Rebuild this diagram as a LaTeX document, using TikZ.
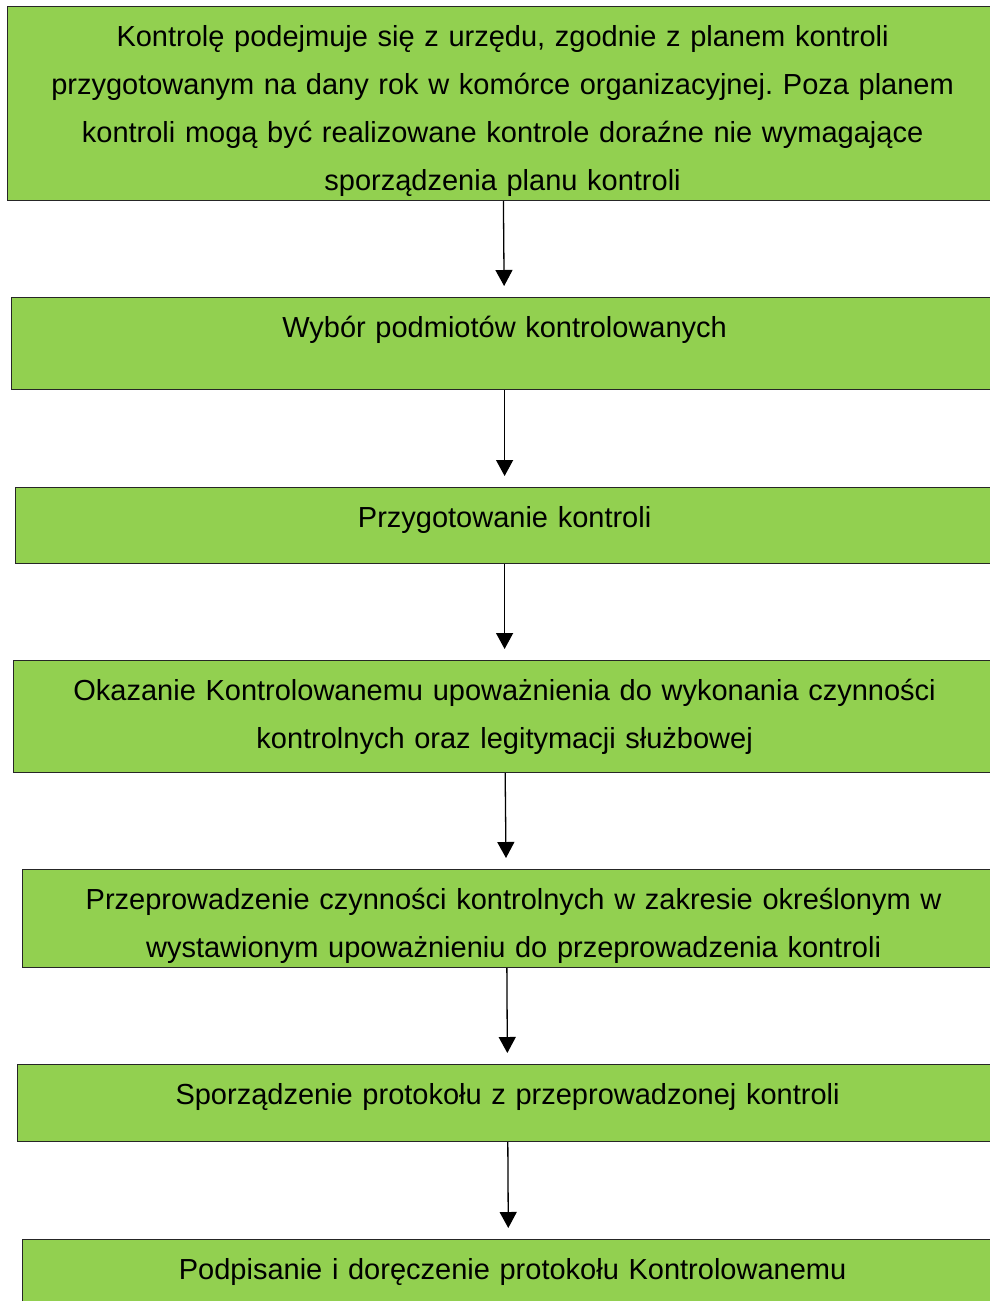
\documentclass[tikz,border=0pt]{standalone}
\usepackage{fontspec}
\setmainfont{Liberation Sans}
\usetikzlibrary{positioning}
\usetikzlibrary{arrows.meta}
\definecolor{boxgreen}{RGB}{146,208,80}
\tikzstyle{stepbox}=[rectangle,draw=black!85,fill=boxgreen,line width=1.2pt,anchor=north west,inner sep=0pt]
\tikzstyle{steptext}=[anchor=base,text width=960pt,align=center,inner sep=0pt,font=\fontsize{29}{48}\selectfont\frenchspacing]
\tikzstyle{flow}=[-{Triangle[width=17pt,length=16pt]},line width=1.3pt,shorten >=11pt]

\begin{document}
\begin{tikzpicture}[x=1pt,y=-1pt]

  \useasboundingbox (0,0) rectangle (990,1301);
  \clip (0,0) rectangle (990,1301);
  \fill[white] (0,0) rectangle (990,1301);

  % boxes, right edge runs off the page
    \foreach \pos/\w/\h/\name in {{(7,6)/990/194/plan}, {(11,297)/986/92/wybor}, {(15,487)/978/76/przyg}, {(13,660)/982/112/okaz}, {(22,869)/968/98/przep}, {(17,1064)/980/77/sporz}, {(22,1239)/972/90/podp}}
        \node[stepbox, minimum width=\w pt, minimum height=\h pt] (\name) at \pos {};

  \node[steptext] (plantext) at ([yshift=-40pt]plan.north) {Kontrolę podejmuje się z urzędu, zgodnie z planem kontroli\\ przygotowanym na dany rok w komórce organizacyjnej. Poza planem\\ kontroli mogą być realizowane kontrole doraźne nie wymagające\\ sporządzenia planu kontroli};
  \node[steptext] (wybortext) at ([yshift=-40pt]wybor.north) {Wybór podmiotów kontrolowanych};
  \node[steptext] (przygtext) at ([yshift=-40pt]przyg.north) {Przygotowanie kontroli};
  \node[steptext] (okaztext) at ([yshift=-40pt]okaz.north) {Okazanie Kontrolowanemu upoważnienia do wykonania czynności\\ kontrolnych oraz legitymacji służbowej};
  \node[steptext] (przeptext) at ([xshift=7pt,yshift=-40pt]przep.north) {Przeprowadzenie czynności kontrolnych w zakresie określonym w\\ wystawionym upoważnieniu do przeprowadzenia kontroli};
  \node[steptext] (sporztext) at ([yshift=-40pt]sporz.north) {Sporządzenie protokołu z przeprowadzonej kontroli};
  \node[steptext] (podptext) at ([xshift=4pt,yshift=-40pt]podp.north) {Podpisanie i doręczenie protokołu Kontrolowanemu};

    \foreach \source/\dest in {plan/wybor, wybor/przyg, przyg/okaz, okaz/przep, przep/sporz, sporz/podp}
        \draw[flow] (\source) -- (\dest);

\end{tikzpicture}
\end{document}
